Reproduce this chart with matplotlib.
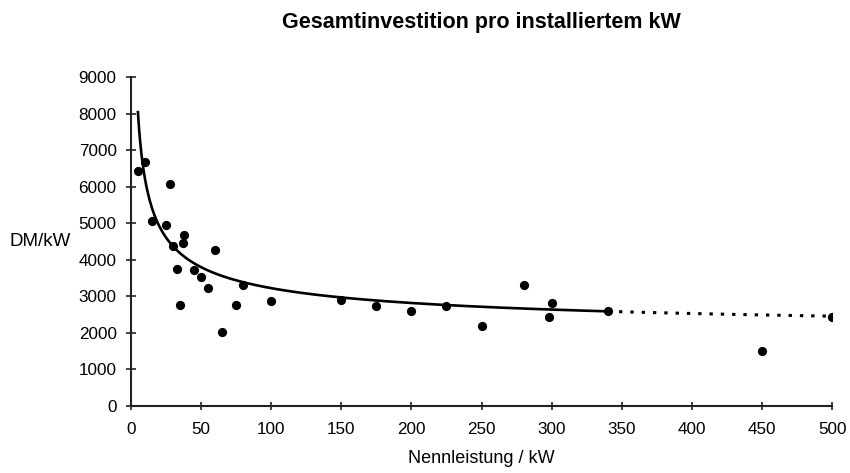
import numpy as np
import matplotlib
matplotlib.use("Agg")
import matplotlib.pyplot as plt

plt.rcParams['font.family'] = ['Liberation Sans', 'DejaVu Sans']

# Data
leistung_kw = [5, 10, 15, 25, 28, 30, 33, 35, 37, 38, 45, 50, 55, 60, 65, 75, 80,
               100, 150, 175, 200, 225, 250, 280, 298, 300, 340, 450, 500]
invest_dm_kw = [6440, 6680, 5050, 4950, 6080, 4380, 3750, 2760, 4460, 4670, 3730,
                3530, 3240, 4270, 2020, 2770, 3310, 2870, 2900, 2730, 2610, 2745,
                2200, 3310, 2440, 2810, 2610, 1510, 2445]

# Trend line y = A + B / sqrt(x)
TREND_A = 1838
TREND_B = 13868
trend_start, trend_solid_end, trend_end = 5, 340, 500

x_ticks = [0, 50, 100, 150, 200, 250, 300, 350, 400, 450, 500]
y_ticks = [0, 1000, 2000, 3000, 4000, 5000, 6000, 7000, 8000, 9000]

fig = plt.figure(figsize=(8.5, 4.73), dpi=100)
ax = fig.add_axes([0.154, 0.1416, 0.825, 0.6955])

def trend(x):
    return TREND_A + TREND_B / np.sqrt(x)

xs1 = np.linspace(trend_start, trend_solid_end, 400)
xs2 = np.linspace(trend_solid_end, trend_end, 100)
ax.plot(xs1, trend(xs1), color='black', lw=1.9, zorder=2)
line2, = ax.plot(xs2, trend(xs2), color='black', lw=2.2, zorder=2)
line2.set_dashes([1.1, 2.6])

ax.scatter(leistung_kw, invest_dm_kw, s=44, color='black', zorder=3, linewidths=0)

ax.set_xlim(0, 500)
ax.set_ylim(0, 9000)
ax.set_xticks(x_ticks)
ax.set_yticks(y_ticks)
ax.set_xticklabels([str(v) for v in x_ticks], fontsize=12.3)
ax.set_yticklabels([str(v) for v in y_ticks], fontsize=12.3)
ax.tick_params(axis='both', direction='inout', color='#222222', width=1.2)
ax.tick_params(axis='y', length=6.5, pad=7)
ax.tick_params(axis='x', length=5.5, pad=9)

for s in ['top', 'right']:
    ax.spines[s].set_visible(False)
for s in ['left', 'bottom']:
    ax.spines[s].set_color('#222222')
    ax.spines[s].set_linewidth(1.5)

ax.set_xlabel('Nennleistung / kW', fontsize=13, labelpad=7)
ax.xaxis.set_label_coords(0.5, -0.135)
ax.set_ylabel('DM/kW', fontsize=13.5, rotation=0, labelpad=0, ha='center', va='center')
ax.yaxis.set_label_coords(-0.13, 0.50)
fig.text(0.154 + 0.825 / 2, 1 - 28 / 473, 'Gesamtinvestition pro installiertem kW',
         fontsize=15.5, fontweight='bold', ha='center', va='baseline')

fig.savefig('out.png', dpi=100)
